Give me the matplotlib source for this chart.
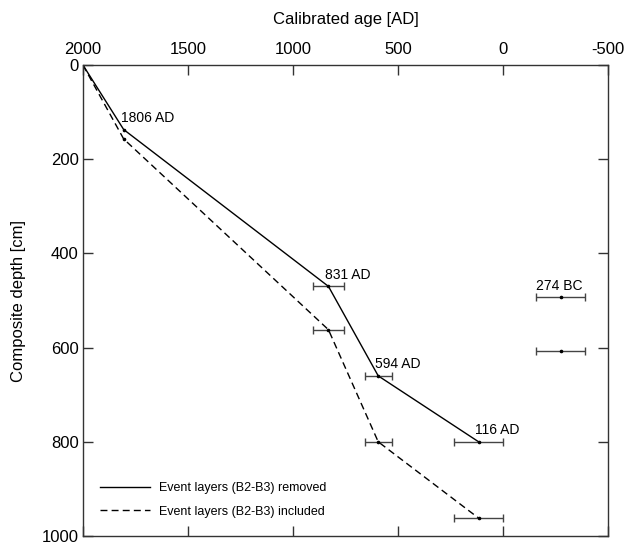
import matplotlib.pyplot as plt

plt.rcParams['font.family'] = ['Liberation Sans', 'DejaVu Sans']

# calibrated ages [AD] of the dated levels
ages = [2000, 1806, 831, 594, 116]
age_err = [0, 0, 72, 64, 117]
labels = ['', '1806 AD', '831 AD', '594 AD', '116 AD']

# composite depth [cm]
depth_removed = [0, 137, 470, 660, 800]
depth_included = [0, 157, 562, 800, 962]

# outlier dates (not used in the model)
outlier_age = [-274, -274]
outlier_err = [115, 115]
outlier_depth = [493, 607]

fig = plt.figure(figsize=(6.33, 5.45), dpi=100)
ax = fig.add_axes([0.131, 0.0165, 0.8295, 0.8642])

ax.plot(ages, depth_removed, color='black', lw=1.0,
        label='Event layers (B2-B3) removed')
ax.plot(ages, depth_included, color='black', lw=1.0, ls=(0, (5, 3)),
        label='Event layers (B2-B3) included')

for d in (depth_removed, depth_included):
    ax.errorbar(ages[2:], d[2:], xerr=age_err[2:], fmt='o', ms=1.6,
                color='black', ecolor='#444444', elinewidth=1.0,
                capsize=3, capthick=1.0)
    ax.plot(ages[1], d[1], 'o', ms=1.6, color='black')
ax.errorbar(outlier_age, outlier_depth, xerr=outlier_err, fmt='o', ms=1.6,
            color='black', ecolor='#444444', elinewidth=1.0,
            capsize=3, capthick=1.0)

for a, d, t in zip(ages, depth_removed, labels):
    if t:
        ax.text(a + 15, d - 10, t, fontsize=10, ha='left', va='bottom')
ax.text(outlier_age[0] + 115, outlier_depth[0] - 10, '274 BC',
        fontsize=10, ha='left', va='bottom')

ax.set_xlim(2000, -500)
ax.set_ylim(1000, 0)
ax.set_xticks([2000, 1500, 1000, 500, 0, -500])
ax.set_xticklabels(['2000', '1500', '1000', '500', '0', '-500'])
ax.set_yticks([0, 200, 400, 600, 800, 1000])

ax.xaxis.set_label_position('top')
ax.set_xlabel('Calibrated age [AD]', fontsize=12, labelpad=13)
ax.set_ylabel('Composite depth [cm]', fontsize=12, labelpad=11)
ax.tick_params(axis='both', direction='in', length=7, width=1,
               top=True, bottom=True, left=True, right=True,
               labeltop=True, labelbottom=False, labelsize=12,
               color='#333333')
ax.tick_params(axis='x', pad=6)
ax.tick_params(axis='y', pad=3)
for s in ax.spines.values():
    s.set_color('#333333')
    s.set_linewidth(1.0)

ax.legend(loc='lower left', bbox_to_anchor=(0.012, 0.015), frameon=False,
          fontsize=9, handlelength=4.0, handletextpad=0.7, labelspacing=0.9)

fig.savefig('out.png', dpi=100)
